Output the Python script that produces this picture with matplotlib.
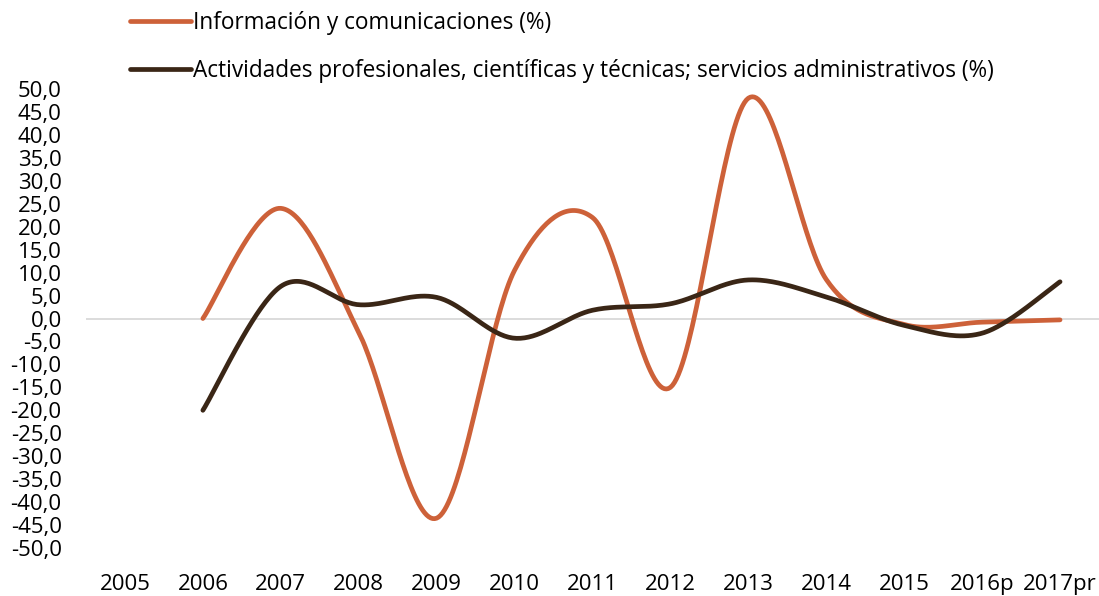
import numpy as np
import matplotlib
matplotlib.use("Agg")
import matplotlib.pyplot as plt
from matplotlib.ticker import FuncFormatter

categories = ["2005", "2006", "2007", "2008", "2009", "2010", "2011", "2012",
              "2013", "2014", "2015", "2016p", "2017pr"]
info_vals = [None, 0.0, 24.0, -3.0, -43.5, 10.5, 22.0, -15.0, 48.0, 8.5, -1.3, -0.8, -0.3]
prof_vals = [None, -20.0, 7.0, 3.0, 4.6, -4.3, 1.8, 3.2, 8.4, 4.7, -1.5, -3.2, 8.0]
series_labels = ["Información y comunicaciones (%)",
                 "Actividades profesionales, científicas y técnicas; servicios administrativos (%)"]
colors = ["#CD6139", "#3A2616"]

plt.rcParams['font.family'] = ['Open Sans', 'DejaVu Sans']


def smooth(xs, ys, n=40):
    # Catmull-Rom style Bezier smoothing (like spreadsheet smoothed lines)
    xs = np.asarray(xs, float); ys = np.asarray(ys, float)
    px, py = [], []
    m = len(xs)
    for i in range(m - 1):
        x0, y0 = (xs[i - 1], ys[i - 1]) if i > 0 else (xs[i], ys[i])
        x1, y1 = xs[i], ys[i]
        x2, y2 = xs[i + 1], ys[i + 1]
        x3, y3 = (xs[i + 2], ys[i + 2]) if i + 2 < m else (xs[i + 1], ys[i + 1])
        c1x, c1y = x1 + (x2 - x0) / 6, y1 + (y2 - y0) / 6
        c2x, c2y = x2 - (x3 - x1) / 6, y2 - (y3 - y1) / 6
        t = np.linspace(0, 1, n)
        bx = (1 - t) ** 3 * x1 + 3 * (1 - t) ** 2 * t * c1x + 3 * (1 - t) * t ** 2 * c2x + t ** 3 * x2
        by = (1 - t) ** 3 * y1 + 3 * (1 - t) ** 2 * t * c1y + 3 * (1 - t) * t ** 2 * c2y + t ** 3 * y2
        px.extend(bx); py.extend(by)
    return np.array(px), np.array(py)


fig = plt.figure(figsize=(10.99, 5.96), dpi=100)
ax = fig.add_axes([86 / 1099, 1 - 548 / 596, (1099 - 86) / 1099, (548 - 89) / 596])

x_idx = np.arange(len(categories))
for vals, lab, col in zip([info_vals, prof_vals], series_labels, colors):
    xs = [x for x, v in zip(x_idx, vals) if v is not None]
    ys = [v for v in vals if v is not None]
    sx, sy = smooth(xs, ys)
    ax.plot(sx, sy, color=col, lw=3.4, solid_capstyle='round', label=lab)

ax.axhline(0, color="#D9D9D9", lw=1.3, zorder=0)
ax.set_xlim(-0.5, len(categories) - 0.5)
ax.set_ylim(-50, 50)
ax.set_yticks(np.arange(-50, 51, 5))
ax.yaxis.set_major_formatter(FuncFormatter(lambda v, p: f"{v:.1f}".replace(".", ",")))
ax.set_xticks(x_idx)
ax.set_xticklabels(categories)
for s in ax.spines.values():
    s.set_visible(False)
ax.tick_params(axis='both', length=0, labelsize=16, colors="#000000")
ax.tick_params(axis='y', pad=17.5)
ax.tick_params(axis='x', pad=19)

fig.legend(loc='upper left', bbox_to_anchor=(130 / 1099, 1 - 11 / 596), frameon=False,
           fontsize=16.3, handlelength=2.7, handletextpad=0.1, labelspacing=1.04,
           borderaxespad=0, borderpad=0)

fig.savefig("out.png", dpi=100)
